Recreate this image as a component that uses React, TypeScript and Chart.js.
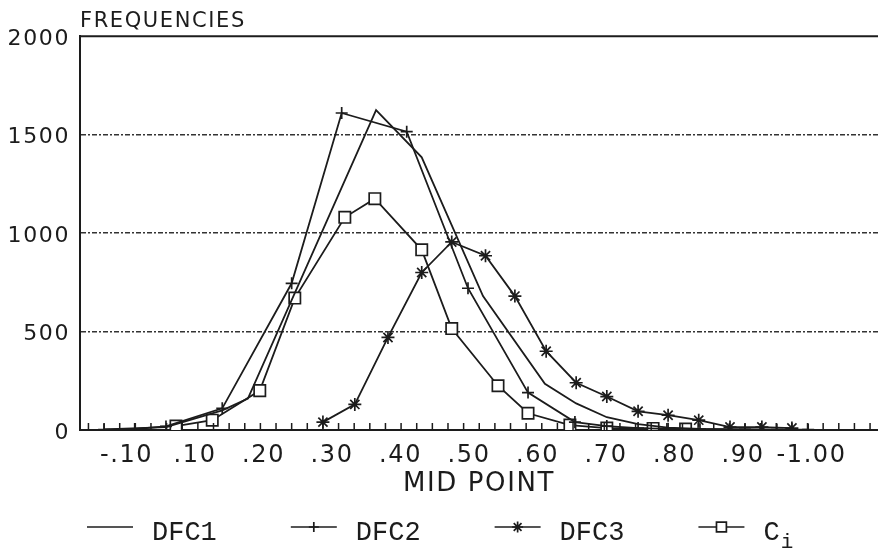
import React, { useEffect, useRef } from 'react';
import { Chart, registerables } from 'chart.js';

Chart.register(...registerables);

// ---- data (x = class mid point, y = frequency) ----
const seriesNames = ['DFC1', 'DFC2', 'DFC3', 'Ci'];
const legendMain = ['DFC1', 'DFC2', 'DFC3', 'C'];
const legendSub = ['', '', '', 'i'];

const dfc1X = [-0.075, 0.024, 0.114, 0.155, 0.36, 0.433, 0.531, 0.63, 0.68, 0.729, 0.779, 0.827, 0.878, 0.974, 1.038];
const dfc1Y = [3, 15, 100, 160, 1625, 1385, 680, 235, 135, 65, 30, 12, 5, 2, 1];

const dfc2X = [-0.075, -0.026, 0.024, 0.114, 0.225, 0.305, 0.409, 0.507, 0.603, 0.678, 0.729, 0.779, 0.827, 0.878, 0.95, 1.001, 1.051];
const dfc2Y = [2, 5, 18, 110, 745, 1610, 1515, 720, 190, 40, 20, 10, 6, 4, 3, 2, 2];

const dfc3X = [0.275, 0.326, 0.379, 0.433, 0.481, 0.535, 0.582, 0.632, 0.68, 0.729, 0.779, 0.827, 0.876, 0.926, 0.977, 1.025];
const dfc3Y = [40, 130, 470, 800, 955, 885, 680, 400, 240, 170, 95, 75, 50, 15, 15, 10];

const ciX = [0.04, 0.098, 0.174, 0.23, 0.31, 0.358, 0.433, 0.481, 0.555, 0.603, 0.67, 0.729, 0.803, 0.855];
const ciY = [20, 50, 200, 670, 1080, 1175, 915, 515, 225, 85, 25, 10, 8, 5];

const xTickLabels = ['-.10', '.10', '.20', '.30', '.40', '.50', '.60', '.70', '.80', '.90', '-1.00'];
const yMin = 0;
const yMax = 2000;
const yStep = 500;

// ---- style ----
const INK = '#1c1c1c';
const FONT = '"DejaVu Sans", sans-serif';
const TYPE_FONT = '"Liberation Mono", monospace';

const toPoints = (xs: number[], ys: number[]) => xs.map((x, i) => ({ x, y: ys[i] }));

function drawMarker(ctx: CanvasRenderingContext2D, style: string, x: number, y: number, r: number) {
  ctx.beginPath();
  if (style === 'cross') {
    ctx.moveTo(x - r, y); ctx.lineTo(x + r, y);
    ctx.moveTo(x, y - r); ctx.lineTo(x, y + r);
    ctx.stroke();
  } else if (style === 'star') {
    const d = r * Math.SQRT1_2;
    ctx.moveTo(x - r, y); ctx.lineTo(x + r, y);
    ctx.moveTo(x, y - r); ctx.lineTo(x, y + r);
    ctx.moveTo(x - d, y - d); ctx.lineTo(x + d, y + d);
    ctx.moveTo(x - d, y + d); ctx.lineTo(x + d, y - d);
    ctx.stroke();
  } else if (style === 'rect') {
    const s = r * Math.SQRT1_2;
    ctx.fillStyle = '#fff';
    ctx.rect(x - s, y - s, 2 * s, 2 * s);
    ctx.fill();
    ctx.stroke();
  }
}

const framePlugin = {
  id: 'frame',
  beforeDraw(chart: any) {
    chart.ctx.letterSpacing = '1.6px';
  },
  afterDraw(chart: any) {
    const { ctx, chartArea: a } = chart;
    const xs = chart.scales.x;
    ctx.save();
    ctx.strokeStyle = INK;
    ctx.lineWidth = 2;
    ctx.beginPath();
    ctx.moveTo(a.left, a.top);
    ctx.lineTo(a.right, a.top);
    ctx.stroke();
    ctx.lineWidth = 1.5;
    ctx.beginPath();
    xs.ticks.forEach((t: any) => {
      const px = xs.getPixelForValue(t.value);
      if (px < a.left + 3) return;
      ctx.moveTo(px, a.bottom);
      ctx.lineTo(px, a.bottom - 7);
    });
    ctx.stroke();
    ctx.restore();
  },
};

const typedLegendPlugin = {
  id: 'typedLegend',
  afterDraw(chart: any) {
    const { ctx, chartArea: a } = chart;
    ctx.save();
    ctx.letterSpacing = '0px';
    const lineY = chart.height - 24;
    const baseY = chart.height - 11;
    let x = a.left + 7;
    chart.data.datasets.forEach((ds: any, i: number) => {
      ctx.strokeStyle = INK;
      ctx.lineWidth = 1.7;
      ctx.beginPath();
      ctx.moveTo(x, lineY);
      ctx.lineTo(x + 46, lineY);
      ctx.stroke();
      if (ds.pointRadius > 0) drawMarker(ctx, ds.pointStyle, x + 23, lineY, ds.pointRadius - 1);
      ctx.fillStyle = INK;
      ctx.textBaseline = 'alphabetic';
      ctx.textAlign = 'left';
      ctx.font = `27px ${TYPE_FONT}`;
      const tx = x + 65;
      ctx.fillText(legendMain[i], tx, baseY);
      let w = ctx.measureText(legendMain[i]).width;
      if (legendSub[i]) {
        ctx.font = `21px ${TYPE_FONT}`;
        ctx.fillText(legendSub[i], tx + w + 1, baseY + 8);
        w += ctx.measureText(legendSub[i]).width + 1;
      }
      x = tx + w + 74;
    });
    ctx.restore();
  },
};

const noSidePadding = (s: any) => {
  s.paddingLeft = 0;
  s.paddingRight = 0;
};

export default function App() {
  const ref = useRef<HTMLCanvasElement | null>(null);

  useEffect(() => {
    if (!ref.current) return;
    const common = { borderColor: INK, borderWidth: 1.8, fill: false, tension: 0, pointBorderColor: INK, pointBorderWidth: 1.7, xAxisID: 'x', yAxisID: 'y' };
    const chart = new Chart(ref.current, {
      type: 'line',
      data: {
        datasets: [
          { ...common, label: seriesNames[0], data: toPoints(dfc1X, dfc1Y), pointRadius: 0 },
          { ...common, label: seriesNames[1], data: toPoints(dfc2X, dfc2Y), pointStyle: 'cross', pointRadius: 6 },
          { ...common, label: seriesNames[2], data: toPoints(dfc3X, dfc3Y), pointStyle: 'star', pointRadius: 6.5 },
          { ...common, label: seriesNames[3], data: toPoints(ciX, ciY), pointStyle: 'rect', pointRadius: 8, pointBackgroundColor: '#ffffff' },
        ],
      },
      options: {
        responsive: false,
        animation: false,
        devicePixelRatio: 1,
        layout: { autoPadding: false, padding: { left: 0, right: 0, top: 0, bottom: 47 } },
        plugins: {
          legend: { display: false },
          tooltip: { enabled: false },
          title: {
            display: true,
            text: 'FREQUENCIES',
            align: 'start',
            fullSize: false,
            color: INK,
            font: { family: FONT, size: 21, weight: 'normal' },
            padding: { top: 9, bottom: 2 },
          },
        },
        scales: {
          x: {
            type: 'linear',
            position: 'bottom',
            weight: 0,
            min: -0.1135,
            max: 1.1627,
            ticks: { display: false, stepSize: 0.025, maxTicksLimit: 100, includeBounds: false },
            grid: { display: false, drawTicks: false },
            border: { display: true, color: INK, width: 2 },
            afterFit: noSidePadding,
          },
          x2: {
            type: 'linear',
            position: 'bottom',
            weight: 1,
            min: -0.068,
            max: 1.097,
            ticks: {
              stepSize: 0.1,
              maxTicksLimit: 20,
              includeBounds: false,
              autoSkip: false,
              maxRotation: 0,
              padding: 11,
              color: INK,
              font: { family: FONT, size: 24 },
              callback: (v: any) => xTickLabels[Math.round(Number(v) * 10)] ?? '',
            },
            grid: { display: false, drawTicks: false },
            border: { display: false },
            title: {
              display: true,
              text: 'MID POINT',
              color: INK,
              font: { family: FONT, size: 26 },
              padding: { top: -12, bottom: 4 },
            },
            afterFit: noSidePadding,
          },
          y: {
            type: 'linear',
            min: yMin,
            max: yMax,
            ticks: {
              stepSize: yStep,
              padding: 10,
              color: INK,
              font: { family: FONT, size: 22 },
              labelOffset: 3,
              callback: (v: any) => String(v),
            },
            grid: {
              drawTicks: false,
              lineWidth: 1.5,
              color: (c: any) => (c.tick && (c.tick.value === yMin || c.tick.value === yMax) ? 'rgba(0,0,0,0)' : '#333333'),
            },
            border: { display: true, color: INK, width: 2, dash: [5, 2, 2, 2] },
            afterFit: (s: any) => { s.width = 80; },
          },
        },
      } as any,
      plugins: [framePlugin, typedLegendPlugin],
    });
    return () => chart.destroy();
  }, []);

  return (
    <div style={{ position: 'fixed', left: 0, top: 0, width: 878, height: 551, background: '#fff' }}>
      <canvas ref={ref} width={878} height={551} style={{ width: 878, height: 551 }} />
    </div>
  );
}
